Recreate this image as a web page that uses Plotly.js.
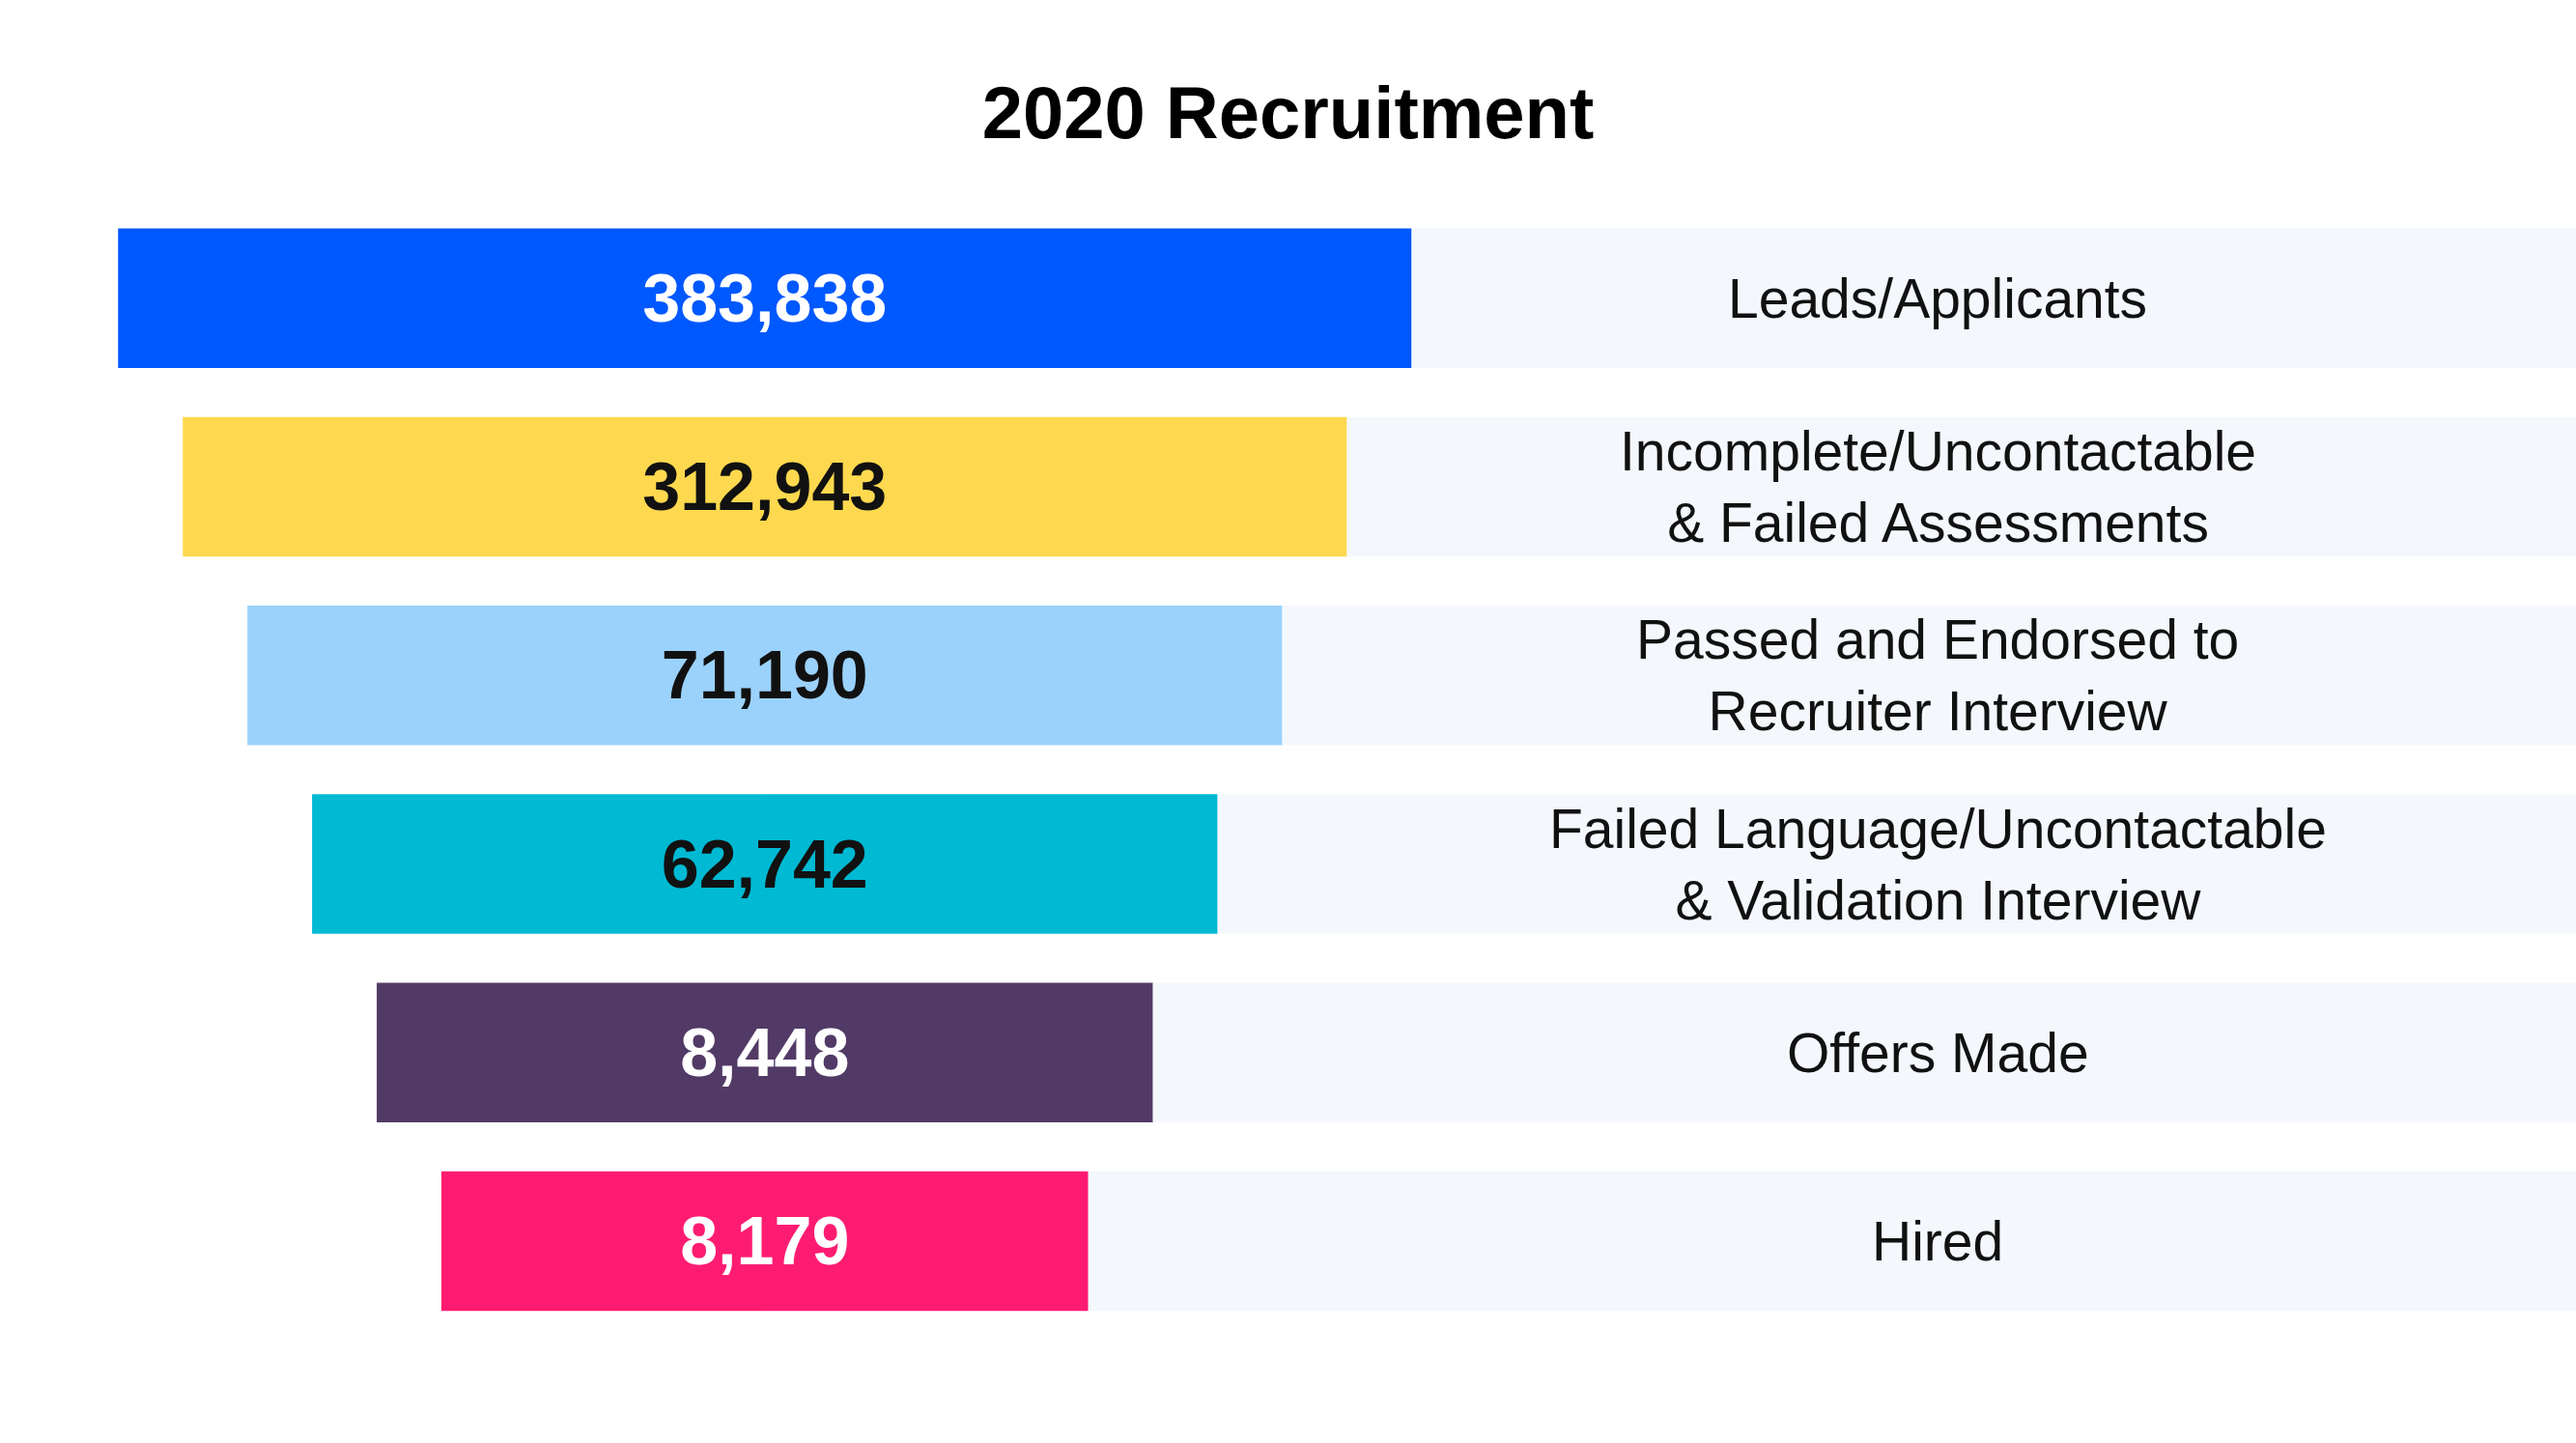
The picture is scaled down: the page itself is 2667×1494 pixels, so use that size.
<!DOCTYPE html>
<html>
<head>
<meta charset="utf-8">
<script src="https://cdn.plot.ly/plotly-3.0.1.min.js"></script>
<style>
  html, body { margin: 0; padding: 0; background: #ffffff; }
  #chart { width: 2667px; height: 1494px; }
</style>
</head>
<body>
<div id="chart"></div>
<script>
// ---- Data ----
const stages = [
  "Leads/Applicants",
  "Incomplete/Uncontactable<br>& Failed Assessments",
  "Passed and Endorsed to<br>Recruiter Interview",
  "Failed Language/Uncontactable<br>& Validation Interview",
  "Offers Made",
  "Hired"
];
const counts = [383838, 312943, 71190, 62742, 8448, 8179];
// drawn funnel length of each stage (stylised, not proportional to counts)
const funnelUnits = [10, 9, 8, 7, 6, 5];
const barColors = ["#0058ff", "#fed94f", "#9bd2fc", "#00b9d3", "#523a66", "#fd1c72"];
const valueColors = ["#ffffff", "#111111", "#111111", "#111111", "#ffffff", "#ffffff"];

// ---- Layout constants ----
const X_MIN = -5.913, X_MAX = 14.005;
const LABEL_X = 9.07;
const FONT = '"Liberation Sans", Arial, "Noto Sans", sans-serif';
const yIdx = stages.map((_, i) => i);

const background = {
  type: "bar",
  orientation: "h",
  y: yIdx,
  x: stages.map(() => X_MAX + 1),
  base: stages.map(() => 0),
  marker: { color: "#f4f8fc", line: { width: 0 } },
  hoverinfo: "skip"
};

const funnelBars = {
  type: "bar",
  orientation: "h",
  y: yIdx,
  x: funnelUnits,
  base: funnelUnits.map(w => -w / 2),
  marker: { color: barColors, line: { width: 0 } },
  text: counts.map(v => v.toLocaleString("en-US")),
  textposition: "inside",
  insidetextanchor: "middle",
  constraintext: "none",
  textfont: { family: FONT, size: 70, weight: 700, color: valueColors },
  hoverinfo: "skip"
};

const annotations = stages.map((s, i) => ({
  x: LABEL_X, y: i, xref: "x", yref: "y",
  text: s, showarrow: false,
  xanchor: "center", yanchor: "middle", align: "center",
  font: { family: FONT, size: 57, color: "#111111" }
}));

const layout = {
  width: 2667, height: 1494,
  margin: { l: 0, r: 0, t: 0, b: 0, pad: 0 },
  paper_bgcolor: "#ffffff",
  plot_bgcolor: "#ffffff",
  showlegend: false,
  barmode: "overlay",
  bargap: 0.26,
  title: {
    text: "2020 Recruitment",
    x: 0.5, xanchor: "center",
    y: 1 - 116 / 1494, yanchor: "middle", yref: "container",
    font: { family: FONT, size: 76, weight: 700, color: "#000000" }
  },
  xaxis: { range: [X_MIN, X_MAX], visible: false, fixedrange: true },
  yaxis: { range: [6.070, -1.581], visible: false, fixedrange: true },
  annotations: annotations
};

Plotly.newPlot("chart", [background, funnelBars], layout, { staticPlot: true, displayModeBar: false });
</script>
</body>
</html>
